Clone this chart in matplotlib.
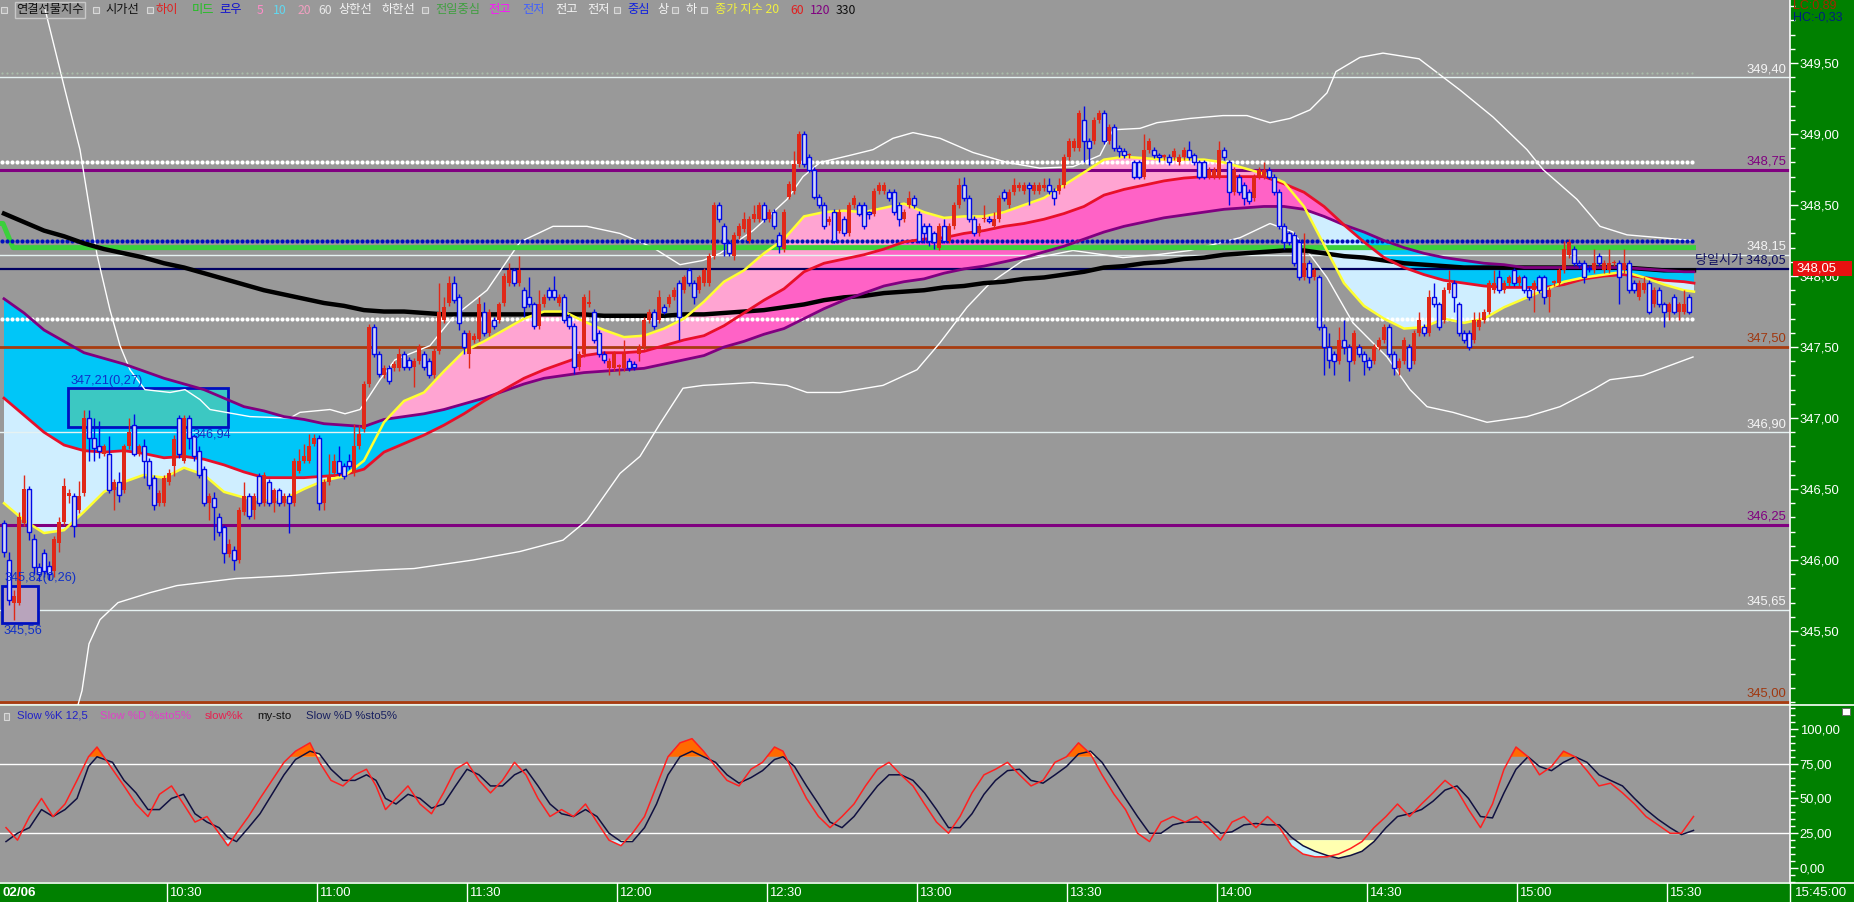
import numpy as np
import matplotlib.pyplot as plt
from matplotlib import font_manager
from matplotlib.patches import Rectangle
from matplotlib.lines import Line2D
from matplotlib.ticker import FuncFormatter, FixedLocator, MultipleLocator
import matplotlib.transforms as mtransforms

# ==================== data (1-minute candles, 09:57 ~ 15:35) ====================
OPEN = [
    346.26, 346.00, 345.70, 345.70, 346.26, 346.50, 346.15, 345.95, 346.05, 345.96,
    345.92, 346.12, 346.27, 346.45, 346.45, 346.35, 346.47, 347.00, 346.86, 346.80,
    346.75, 346.75, 346.49, 346.55, 346.49, 346.80, 346.95, 346.75, 346.80, 346.70,
    346.58, 346.40, 346.40, 346.55, 346.66, 347.00, 346.70, 347.00, 346.87, 346.77,
    346.64, 346.40, 346.44, 346.30, 346.23, 346.04, 346.07, 346.00, 346.34, 346.45,
    346.35, 346.59, 346.40, 346.55, 346.40, 346.49, 346.40, 346.45, 346.40, 346.63,
    346.70, 346.70, 346.82, 346.86, 346.40, 346.55, 346.61, 346.70, 346.66, 346.70,
    346.61, 346.80, 346.92, 347.24, 347.64, 347.45, 347.30, 347.35, 347.35, 347.35,
    347.45, 347.41, 347.36, 347.40, 347.45, 347.40, 347.30, 347.47, 347.69, 347.81,
    347.95, 347.85, 347.60, 347.45, 347.55, 347.56, 347.75, 347.60, 347.69, 347.69,
    347.81, 347.95, 348.04, 347.95, 347.90, 347.85, 347.80, 347.65, 347.80, 347.90,
    347.90, 347.81, 347.85, 347.71, 347.65, 347.36, 347.45, 347.80, 347.75, 347.60,
    347.45, 347.35, 347.35, 347.36, 347.35, 347.40, 347.38, 347.45, 347.50, 347.69,
    347.75, 347.69, 347.78, 347.80, 347.85, 347.95, 347.90, 348.04, 347.95, 347.90,
    347.95, 347.95, 348.14, 348.50, 348.35, 348.23, 348.14, 348.28, 348.33, 348.25,
    348.40, 348.40, 348.50, 348.40, 348.45, 348.29, 348.19, 348.56, 348.60, 348.79,
    349.00, 348.84, 348.75, 348.56, 348.50, 348.38, 348.45, 348.32, 348.40, 348.30,
    348.50, 348.50, 348.50, 348.45, 348.44, 348.60, 348.60, 348.59, 348.59, 348.50,
    348.40, 348.50, 348.55, 348.44, 348.35, 348.35, 348.30, 348.20, 348.35, 348.25,
    348.35, 348.50, 348.64, 348.55, 348.40, 348.30, 348.40, 348.40, 348.35, 348.40,
    348.59, 348.50, 348.59, 348.62, 348.60, 348.64, 348.60, 348.60, 348.62, 348.64,
    348.60, 348.60, 348.64, 348.84, 348.90, 348.90, 349.10, 348.95, 348.95, 349.10,
    349.15, 348.95, 349.05, 348.90, 348.88, 348.85, 348.80, 348.80, 348.70, 348.89,
    348.89, 348.85, 348.84, 348.84, 348.84, 348.80, 348.84, 348.89, 348.85, 348.80,
    348.80, 348.70, 348.70, 348.70, 348.89, 348.80, 348.59, 348.70, 348.64, 348.59,
    348.55, 348.70, 348.70, 348.75, 348.70, 348.59, 348.35, 348.30, 348.29, 348.24,
    347.99, 348.09, 347.99, 347.99, 347.64, 347.50, 347.45, 347.40, 347.55, 347.50,
    347.40, 347.50, 347.45, 347.41, 347.40, 347.50, 347.55, 347.64, 347.45, 347.35,
    347.40, 347.50, 347.40, 347.60, 347.64, 347.60, 347.85, 347.80, 347.69, 347.90,
    347.95, 347.80, 347.60, 347.60, 347.55, 347.64, 347.69, 347.75, 347.90, 347.99,
    347.90, 347.95, 348.04, 347.95, 347.99, 347.90, 347.90, 347.99, 347.99, 347.85,
    347.95, 347.95, 348.04, 348.15, 348.19, 348.09, 348.09, 348.06, 348.04, 348.14,
    348.04, 348.04, 348.09, 348.09, 348.04, 348.09, 347.95, 347.85, 347.90, 347.95,
    347.80, 347.90, 347.80, 347.75, 347.85, 347.75, 347.75, 347.85,
]
CLOSE = [
    346.06, 345.72, 345.75, 346.30, 346.50, 346.20, 345.95, 345.90, 345.92, 345.90,
    346.15, 346.27, 346.52, 346.47, 346.24, 346.45, 347.00, 346.86, 346.79, 346.77,
    346.80, 346.49, 346.55, 346.46, 346.80, 346.90, 346.75, 346.80, 346.70, 346.53,
    346.39, 346.47, 346.58, 346.61, 346.85, 346.75, 347.00, 346.86, 346.73, 346.60,
    346.40, 346.45, 346.37, 346.20, 346.05, 346.11, 346.00, 346.35, 346.45, 346.31,
    346.45, 346.40, 346.60, 346.40, 346.49, 346.40, 346.45, 346.40, 346.70, 346.70,
    346.73, 346.80, 346.86, 346.40, 346.55, 346.60, 346.70, 346.61, 346.59, 346.66,
    346.80, 346.89, 347.24, 347.64, 347.45, 347.31, 347.35, 347.26, 347.38, 347.45,
    347.36, 347.36, 347.40, 347.50, 347.36, 347.30, 347.47, 347.75, 347.78, 347.95,
    347.83, 347.67, 347.50, 347.60, 347.58, 347.80, 347.60, 347.75, 347.65, 347.80,
    348.00, 348.04, 347.95, 348.04, 347.78, 347.80, 347.65, 347.80, 347.85, 347.85,
    347.85, 347.85, 347.69, 347.65, 347.36, 347.45, 347.85, 347.82, 347.55, 347.45,
    347.41, 347.40, 347.45, 347.36, 347.45, 347.35, 347.36, 347.50, 347.69, 347.75,
    347.65, 347.85, 347.75, 347.85, 347.90, 347.71, 347.99, 347.95, 347.85, 347.99,
    348.04, 348.14, 348.50, 348.40, 348.23, 348.16, 348.29, 348.35, 348.40, 348.40,
    348.44, 348.50, 348.40, 348.45, 348.35, 348.21, 348.45, 348.65, 348.79, 349.00,
    348.79, 348.75, 348.56, 348.50, 348.35, 348.40, 348.25, 348.45, 348.30, 348.50,
    348.55, 348.44, 348.35, 348.44, 348.60, 348.64, 348.64, 348.55, 348.45, 348.40,
    348.45, 348.55, 348.50, 348.25, 348.30, 348.25, 348.24, 348.35, 348.25, 348.35,
    348.50, 348.64, 348.55, 348.40, 348.30, 348.35, 348.40, 348.39, 348.40, 348.55,
    348.55, 348.59, 348.64, 348.64, 348.64, 348.62, 348.64, 348.64, 348.64, 348.60,
    348.55, 348.64, 348.84, 348.95, 348.95, 349.15, 348.95, 348.90, 349.10, 349.15,
    348.95, 349.05, 348.90, 348.88, 348.85, 348.85, 348.70, 348.70, 348.89, 348.95,
    348.85, 348.84, 348.84, 348.80, 348.88, 348.84, 348.89, 348.84, 348.80, 348.70,
    348.70, 348.75, 348.75, 348.89, 348.84, 348.59, 348.75, 348.59, 348.55, 348.53,
    348.70, 348.75, 348.75, 348.70, 348.59, 348.35, 348.24, 348.24, 348.09, 347.99,
    348.09, 347.99, 348.04, 347.64, 347.50, 347.41, 347.40, 347.55, 347.50, 347.40,
    347.60, 347.45, 347.40, 347.36, 347.50, 347.55, 347.64, 347.45, 347.35, 347.40,
    347.55, 347.35, 347.60, 347.69, 347.60, 347.85, 347.80, 347.64, 347.90, 347.95,
    347.85, 347.60, 347.55, 347.50, 347.69, 347.69, 347.75, 347.95, 347.95, 347.90,
    347.95, 347.99, 347.95, 347.99, 347.90, 347.85, 347.95, 347.90, 347.85, 347.90,
    347.95, 348.04, 348.19, 348.24, 348.09, 348.08, 347.99, 348.05, 348.09, 348.09,
    348.09, 348.09, 348.09, 347.99, 348.09, 347.90, 347.90, 347.95, 347.95, 347.75,
    347.90, 347.80, 347.75, 347.80, 347.75, 347.80, 347.80, 347.75,
]
HIGH = [
    346.28, 346.06, 345.79, 346.34, 346.60, 346.52, 346.18, 345.98, 346.08, 345.99,
    346.17, 346.30, 346.58, 346.50, 346.47, 346.56, 347.06, 347.06, 347.00, 346.98,
    346.82, 346.87, 346.57, 346.62, 346.82, 347.00, 347.03, 346.82, 346.85, 346.72,
    346.60, 346.49, 346.60, 346.64, 346.88, 347.02, 347.02, 347.02, 346.89, 346.80,
    346.66, 346.47, 346.48, 346.33, 346.25, 346.15, 346.10, 346.37, 346.55, 346.47,
    346.47, 346.61, 346.62, 346.57, 346.51, 346.51, 346.47, 346.47, 346.72, 346.78,
    346.82, 346.89, 346.89, 346.88, 346.57, 346.75, 346.75, 346.80, 346.68, 346.75,
    346.96, 346.95, 347.26, 347.66, 347.66, 347.47, 347.37, 347.37, 347.40, 347.50,
    347.47, 347.43, 347.42, 347.52, 347.47, 347.42, 347.49, 347.95, 347.85, 348.00,
    348.00, 347.87, 347.62, 347.62, 347.60, 347.85, 347.82, 347.77, 347.71, 347.82,
    348.02, 348.09, 348.06, 348.14, 347.92, 347.99, 347.82, 347.90, 347.87, 347.92,
    348.00, 347.87, 347.87, 347.73, 347.67, 347.47, 347.87, 347.90, 347.77, 347.62,
    347.47, 347.42, 347.47, 347.38, 347.55, 347.42, 347.40, 347.52, 347.71, 347.77,
    347.77, 347.90, 347.80, 347.87, 347.92, 347.97, 348.01, 348.06, 347.97, 348.01,
    348.06, 348.16, 348.52, 348.52, 348.37, 348.25, 348.31, 348.37, 348.45, 348.42,
    348.50, 348.52, 348.52, 348.47, 348.47, 348.31, 348.47, 348.67, 348.88, 349.02,
    349.02, 348.86, 348.77, 348.58, 348.52, 348.42, 348.47, 348.47, 348.42, 348.52,
    348.57, 348.52, 348.52, 348.46, 348.62, 348.66, 348.66, 348.61, 348.61, 348.52,
    348.47, 348.60, 348.57, 348.46, 348.37, 348.37, 348.32, 348.37, 348.40, 348.37,
    348.52, 348.69, 348.70, 348.57, 348.42, 348.37, 348.50, 348.42, 348.45, 348.57,
    348.61, 348.61, 348.69, 348.66, 348.66, 348.66, 348.66, 348.66, 348.69, 348.69,
    348.62, 348.69, 348.86, 348.97, 348.97, 349.17, 349.20, 348.97, 349.12, 349.17,
    349.17, 349.07, 349.07, 348.92, 348.90, 348.87, 348.82, 348.82, 349.00, 348.97,
    348.91, 348.87, 348.86, 348.86, 348.90, 348.86, 348.91, 348.95, 348.87, 348.82,
    348.82, 348.77, 348.77, 348.95, 348.91, 348.82, 348.77, 348.72, 348.66, 348.61,
    348.72, 348.77, 348.80, 348.77, 348.72, 348.61, 348.37, 348.32, 348.31, 348.26,
    348.30, 348.11, 348.06, 348.01, 347.66, 347.60, 347.47, 347.64, 347.69, 347.52,
    347.62, 347.52, 347.47, 347.43, 347.52, 347.57, 347.66, 347.66, 347.47, 347.42,
    347.57, 347.52, 347.62, 347.75, 347.66, 347.90, 347.95, 347.82, 347.92, 348.04,
    347.97, 347.82, 347.62, 347.62, 347.75, 347.75, 347.77, 347.97, 348.04, 348.04,
    347.97, 348.01, 348.06, 348.01, 348.01, 347.92, 347.97, 348.01, 348.01, 347.92,
    347.97, 348.06, 348.25, 348.26, 348.21, 348.11, 348.11, 348.08, 348.19, 348.16,
    348.11, 348.19, 348.11, 348.11, 348.19, 348.11, 347.97, 347.97, 347.99, 347.97,
    347.92, 347.92, 347.82, 347.82, 347.87, 347.82, 347.90, 347.87,
]
LOW = [
    346.02, 345.68, 345.58, 345.68, 346.24, 346.14, 345.90, 345.85, 345.88, 345.86,
    345.88, 346.06, 346.25, 346.40, 346.16, 346.33, 346.45, 346.70, 346.70, 346.72,
    346.73, 346.47, 346.35, 346.41, 346.47, 346.78, 346.73, 346.73, 346.58, 346.50,
    346.35, 346.38, 346.38, 346.53, 346.59, 346.72, 346.68, 346.78, 346.70, 346.58,
    346.38, 346.28, 346.14, 346.17, 345.98, 346.02, 345.93, 345.98, 346.32, 346.29,
    346.29, 346.38, 346.38, 346.38, 346.34, 346.38, 346.38, 346.19, 346.38, 346.61,
    346.68, 346.68, 346.80, 346.35, 346.35, 346.53, 346.59, 346.59, 346.57, 346.64,
    346.59, 346.78, 346.90, 347.22, 347.43, 347.29, 347.28, 347.24, 347.33, 347.33,
    347.34, 347.34, 347.22, 347.38, 347.34, 347.28, 347.28, 347.45, 347.67, 347.79,
    347.81, 347.62, 347.45, 347.35, 347.53, 347.54, 347.58, 347.58, 347.63, 347.67,
    347.79, 347.93, 347.93, 347.93, 347.71, 347.78, 347.63, 347.63, 347.78, 347.83,
    347.83, 347.79, 347.67, 347.63, 347.31, 347.34, 347.43, 347.78, 347.53, 347.43,
    347.39, 347.30, 347.33, 347.30, 347.33, 347.33, 347.34, 347.40, 347.48, 347.67,
    347.63, 347.67, 347.73, 347.78, 347.83, 347.55, 347.88, 347.93, 347.80, 347.88,
    347.93, 347.93, 348.12, 348.38, 348.14, 348.14, 348.11, 348.26, 348.31, 348.23,
    348.38, 348.38, 348.38, 348.38, 348.33, 348.16, 348.17, 348.54, 348.58, 348.77,
    348.77, 348.73, 348.54, 348.48, 348.33, 348.36, 348.23, 348.30, 348.28, 348.28,
    348.48, 348.42, 348.33, 348.40, 348.42, 348.58, 348.58, 348.53, 348.43, 348.35,
    348.38, 348.48, 348.48, 348.23, 348.23, 348.21, 348.19, 348.18, 348.23, 348.23,
    348.33, 348.48, 348.53, 348.38, 348.28, 348.28, 348.38, 348.37, 348.33, 348.38,
    348.53, 348.48, 348.57, 348.60, 348.58, 348.50, 348.58, 348.58, 348.60, 348.58,
    348.50, 348.58, 348.62, 348.82, 348.88, 348.88, 348.80, 348.78, 348.93, 349.08,
    348.93, 348.93, 348.88, 348.84, 348.83, 348.83, 348.68, 348.68, 348.68, 348.87,
    348.83, 348.80, 348.82, 348.78, 348.82, 348.78, 348.82, 348.82, 348.78, 348.68,
    348.68, 348.68, 348.68, 348.68, 348.82, 348.50, 348.57, 348.57, 348.50, 348.51,
    348.53, 348.68, 348.68, 348.68, 348.57, 348.33, 348.19, 348.22, 348.07, 347.97,
    347.97, 347.95, 347.97, 347.62, 347.30, 347.35, 347.30, 347.38, 347.45, 347.26,
    347.38, 347.43, 347.30, 347.34, 347.38, 347.48, 347.53, 347.43, 347.30, 347.30,
    347.38, 347.33, 347.38, 347.58, 347.58, 347.58, 347.78, 347.62, 347.67, 347.88,
    347.75, 347.58, 347.53, 347.48, 347.53, 347.62, 347.67, 347.73, 347.88, 347.88,
    347.88, 347.93, 347.93, 347.93, 347.88, 347.83, 347.75, 347.88, 347.80, 347.75,
    347.93, 347.93, 348.02, 348.13, 348.07, 348.06, 347.95, 348.03, 348.02, 348.07,
    348.02, 348.02, 348.07, 347.80, 348.02, 347.88, 347.88, 347.83, 347.88, 347.73,
    347.78, 347.78, 347.64, 347.69, 347.73, 347.69, 347.73, 347.73,
]

# moving averages (candle index, price)
MA_J = [0, 4, 8, 12, 16, 20, 24, 28, 32, 36, 40, 44, 48, 52, 56, 60, 64, 68, 72, 76,
        80, 84, 88, 92, 96, 100, 104, 108, 112, 116, 120, 124, 128, 132, 136, 140, 144, 148, 152, 156,
        160, 164, 168, 172, 176, 180, 184, 188, 192, 196, 200, 204, 208, 212, 216, 220, 224, 228, 232, 236,
        240, 244, 248, 252, 256, 260, 264, 268, 272, 276, 280, 284, 288, 292, 296, 300, 304, 308, 312, 316,
        320, 324, 328, 332, 336, 338]
MA20 = [346.40, 346.28, 346.19, 346.21, 346.34, 346.48, 346.55, 346.60, 346.58, 346.65,
        346.60, 346.48, 346.44, 346.42, 346.43, 346.50, 346.56, 346.59, 346.70, 346.97,
        347.12, 347.18, 347.33, 347.47, 347.54, 347.62, 347.70, 347.75, 347.75, 347.68,
        347.62, 347.57, 347.58, 347.63, 347.70, 347.82, 347.96, 348.04, 348.16, 348.26,
        348.42, 348.45, 348.46, 348.45, 348.48, 348.51, 348.45, 348.41, 348.42, 348.42,
        348.45, 348.50, 348.55, 348.64, 348.73, 348.82, 348.84, 348.83, 348.82, 348.82,
        348.82, 348.80, 348.76, 348.72, 348.66, 348.49, 348.22, 347.95, 347.79, 347.70,
        347.63, 347.64, 347.70, 347.67, 347.70, 347.78, 347.84, 347.90, 347.96, 347.99,
        348.01, 348.03, 347.99, 347.94, 347.90, 347.89]
MA60 = [347.14, 347.02, 346.90, 346.81, 346.77, 346.76, 346.77, 346.75, 346.72, 346.73,
        346.71, 346.67, 346.62, 346.58, 346.58, 346.58, 346.59, 346.60, 346.64, 346.76,
        346.82, 346.88, 346.95, 347.03, 347.12, 347.20, 347.28, 347.34, 347.39, 347.44,
        347.46, 347.46, 347.47, 347.51, 347.55, 347.58, 347.65, 347.74, 347.83, 347.91,
        348.03, 348.09, 348.12, 348.15, 348.19, 348.24, 348.26, 348.27, 348.30, 348.32,
        348.35, 348.37, 348.40, 348.44, 348.49, 348.57, 348.61, 348.64, 348.67, 348.69,
        348.70, 348.70, 348.70, 348.70, 348.65, 348.59, 348.49, 348.36, 348.24, 348.13,
        348.06, 348.01, 347.97, 347.95, 347.93, 347.92, 347.92, 347.92, 347.94, 347.98,
        348.00, 348.01, 347.99, 347.97, 347.96, 347.95]
MA120 = [347.84, 347.74, 347.62, 347.54, 347.46, 347.42, 347.38, 347.33, 347.28, 347.24,
         347.20, 347.14, 347.08, 347.05, 347.01, 346.99, 346.96, 346.95, 346.94, 346.99,
         347.01, 347.03, 347.06, 347.10, 347.14, 347.19, 347.24, 347.28, 347.30, 347.32,
         347.33, 347.34, 347.35, 347.38, 347.41, 347.44, 347.50, 347.54, 347.59, 347.63,
         347.70, 347.77, 347.83, 347.88, 347.93, 347.96, 347.98, 348.02, 348.05, 348.07,
         348.10, 348.13, 348.17, 348.21, 348.26, 348.31, 348.35, 348.38, 348.41, 348.43,
         348.45, 348.47, 348.48, 348.49, 348.49, 348.47, 348.42, 348.36, 348.31, 348.25,
         348.20, 348.16, 348.13, 348.11, 348.09, 348.08, 348.06, 348.06, 348.06, 348.06,
         348.06, 348.06, 348.05, 348.04, 348.03, 348.03]
MA330 = [348.44, 348.38, 348.32, 348.28, 348.23, 348.19, 348.16, 348.13, 348.09, 348.06,
         348.02, 347.98, 347.94, 347.90, 347.87, 347.84, 347.81, 347.79, 347.76, 347.75,
         347.75, 347.74, 347.73, 347.73, 347.73, 347.73, 347.73, 347.73, 347.73, 347.73,
         347.72, 347.72, 347.72, 347.72, 347.73, 347.73, 347.74, 347.75, 347.76, 347.78,
         347.80, 347.83, 347.85, 347.86, 347.88, 347.89, 347.90, 347.92, 347.93, 347.95,
         347.96, 347.98, 347.99, 348.01, 348.03, 348.06, 348.07, 348.09, 348.10, 348.12,
         348.13, 348.15, 348.16, 348.17, 348.18, 348.18, 348.16, 348.14, 348.13, 348.11,
         348.09, 348.08, 348.07, 348.06, 348.06, 348.06, 348.06, 348.06, 348.06, 348.06,
         348.06, 348.06, 348.05, 348.04, 348.04, 348.04]

# envelope (upper / lower band)
BB_UP_J = [8.2, 12.2, 15.2, 18.6, 21.2, 23.2, 25.2, 28.2, 33.2, 36.2,
           39.2, 41.2, 49.2, 57.2, 59.2, 65.2, 68.2, 71.2, 72.6, 75.2,
           78.2, 85.2, 89.8, 96.6, 103.2, 109.8, 116.6, 123.2, 129.8, 135.2,
           139.8, 143.2, 149.8, 156.6, 159.8, 163.2, 169.2, 173.8, 177.8, 181.8,
           187.2, 193.8, 200.6, 207.2, 213.8, 219.2, 221.8, 227.2, 230.6, 237.2,
           243.8, 248.6, 253.2, 257.2, 261.2, 264.6, 266.4, 271.2, 275.8, 283.0,
           291.2, 297.8, 304.6, 307.8, 314.6, 319.2, 324.6, 331.2, 337.8]
BB_UP = [349.88, 349.31, 348.89, 348.15, 347.76, 347.51, 347.34, 347.20, 347.18, 347.20,
         347.13, 347.06, 347.01, 347.00, 347.04, 347.06, 347.03, 347.06, 347.13, 347.27,
         347.41, 347.51, 347.71, 347.90, 348.24, 348.35, 348.35, 348.30, 348.20, 348.08,
         348.11, 348.16, 348.32, 348.54, 348.70, 348.80, 348.85, 348.89, 348.97, 349.01,
         348.97, 348.87, 348.80, 348.76, 348.77, 348.85, 349.03, 349.04, 349.08, 349.11,
         349.13, 349.13, 349.08, 349.11, 349.17, 349.29, 349.44, 349.54, 349.57, 349.53,
         349.31, 349.12, 348.89, 348.75, 348.54, 348.35, 348.29, 348.27, 348.25]
BB_LO_J = [14.8, 15.6, 17.0, 19.2, 22.8, 29.2, 34.6, 46.4, 57.2, 65.4,
           75.2, 82.0, 93.8, 103.2, 111.8, 116.6, 123.2, 127.2, 131.2, 135.8,
           139.8, 149.8, 156.6, 160.6, 167.2, 175.8, 182.6, 187.2, 192.6, 197.2,
           203.8, 213.8, 223.8, 230.6, 237.2, 247.2, 253.2, 257.8, 264.6, 269.8,
           276.6, 281.2, 284.6, 289.8, 296.6, 304.6, 311.2, 317.8, 321.2, 327.8, 337.8]
BB_LO = [344.98, 345.08, 345.41, 345.58, 345.70, 345.77, 345.82, 345.87, 345.89, 345.91,
         345.93, 345.94, 346.00, 346.06, 346.14, 346.28, 346.61, 346.73, 346.96, 347.21,
         347.23, 347.25, 347.23, 347.18, 347.18, 347.23, 347.34, 347.53, 347.78, 347.95,
         348.11, 348.18, 348.13, 348.15, 348.18, 348.27, 348.37, 348.31, 347.99, 347.67,
         347.43, 347.20, 347.08, 347.04, 346.97, 347.01, 347.08, 347.20, 347.27, 347.30, 347.43]

# previous-day centre line (green)
GREEN_J = [-0.8, -0.2, 1.8, 338.4]
GREEN_P = [348.37, 348.37, 348.20, 348.20]

# horizontal reference levels
LEVELS = [349.40, 348.75, 348.15, 348.05, 347.50, 346.90, 346.25, 345.65, 345.00]
LEVEL_TEXT = ['349,40', '348,75', '348,15', '당일시가 348,05', '347,50',
              '346,90', '346,25', '345,65', '345,00']
LEVEL_STYLE = ['light', 'purple', 'light', 'navy', 'brown', 'light', 'purple', 'light', 'brown']
DOT_LEVELS = [349.43, 348.80, 348.25, 347.70]
DOT_STYLE = ['grey', 'white', 'blue', 'white']

# high / low boxes
BOX_UP = dict(j0=12.8, j1=44.8, top=347.21, bot=346.94, t1='347,21(0,27)', t2='346,94')
BOX_DN = dict(j0=-0.4, j1=6.8, top=345.82, bot=345.56, t1='345,82(0,26)', t2='345,56')

PRICE_NOW = 348.05
PRICE_TICKS = [345.5, 346.0, 346.5, 347.0, 347.5, 348.0, 348.5, 349.0, 349.5]

# stochastic (candle index, %K, %D)
STO_J = [0.4, 2.7, 5.1, 7.5, 9.8, 12.2, 14.6, 16.9, 18.6, 21.7, 24.0, 26.4, 28.8, 31.1, 33.5,
         35.9, 38.2, 40.6, 43.0, 44.8, 46.5, 48.9, 51.2, 53.6, 56.0, 58.3, 61.2, 63.1, 65.4,
         67.8, 70.2, 72.5, 74.4, 76.3, 78.4, 80.8, 83.2, 85.5, 87.9, 90.3, 92.6, 95.0, 97.3,
         99.7, 102.1, 104.4, 106.8, 109.2, 111.5, 113.9, 116.3, 118.6, 121.0, 123.4, 125.7,
         128.1, 130.5, 132.8, 135.2, 137.6, 139.9, 142.3, 144.6, 147.0, 149.4, 151.7, 154.1,
         155.8, 158.1, 160.5, 162.9, 165.2, 167.6, 170.0, 172.3, 174.7, 177.0, 179.4, 181.8,
         184.1, 186.5, 188.9, 191.2, 193.6, 196.0, 198.3, 200.7, 203.1, 205.4, 207.8, 210.2,
         212.5, 214.9, 217.3, 219.6, 222.0, 224.3, 226.7, 229.1, 231.4, 233.8, 236.2, 238.5,
         240.9, 243.3, 245.6, 248.0, 250.4, 252.7, 255.1, 257.5, 259.8, 262.2, 264.6, 266.9,
         269.3, 271.6, 274.0, 276.4, 278.7, 281.1, 283.5, 285.8, 288.2, 290.6, 292.9, 295.3,
         297.7, 300.0, 302.4, 304.8, 307.1, 309.5, 311.9, 314.2, 316.6, 319.0, 321.3, 323.7,
         326.1, 328.4, 330.8, 333.2, 335.5, 337.9]
STO_K = [29, 20, 37, 50, 37, 46, 63, 80, 87, 71, 59, 46, 37, 53, 59, 46, 33, 37, 25, 16,
         25, 37, 50, 63, 76, 84, 90, 76, 63, 59, 67, 71, 59, 42, 50, 59, 46, 39, 54, 71,
         76, 63, 54, 63, 76, 67, 50, 37, 42, 37, 46, 33, 20, 16, 25, 37, 59, 80, 90, 93,
         84, 73, 63, 59, 71, 76, 87, 84, 67, 50, 37, 29, 37, 46, 59, 71, 76, 67, 59, 46,
         33, 25, 37, 54, 67, 71, 76, 67, 59, 63, 76, 80, 90, 82, 67, 53, 42, 25, 19, 33,
         37, 33, 37, 29, 20, 33, 37, 29, 37, 29, 16, 10, 8, 8, 10, 14, 19, 29, 37, 46,
         37, 46, 54, 63, 56, 42, 29, 46, 71, 87, 80, 67, 73, 84, 80, 70, 59, 61, 54, 46,
         37, 31, 25, 25, 37]
STO_D = [19, 25, 29, 42, 37, 42, 50, 73, 80, 76, 63, 54, 42, 42, 50, 53, 39, 33, 29, 22,
         19, 29, 39, 53, 67, 78, 84, 82, 71, 63, 63, 67, 63, 50, 46, 53, 50, 43, 46, 59,
         71, 67, 59, 59, 67, 71, 59, 46, 39, 37, 42, 37, 25, 19, 19, 29, 46, 67, 80, 84,
         80, 76, 67, 61, 65, 70, 78, 80, 73, 59, 46, 33, 29, 37, 48, 59, 67, 67, 63, 54,
         42, 29, 29, 39, 53, 63, 70, 71, 63, 61, 67, 73, 82, 84, 76, 63, 50, 37, 25, 25,
         31, 33, 33, 33, 25, 26, 31, 32, 31, 31, 22, 16, 12, 9, 7, 9, 12, 19, 29, 37,
         39, 42, 48, 56, 59, 50, 37, 36, 54, 71, 80, 73, 70, 76, 80, 76, 67, 63, 59, 50,
         42, 35, 29, 24, 27]
STO_TICKS = [0, 25, 50, 75, 100]

TIME_LABELS = ['10:30', '11:00', '11:30', '12:00', '12:30', '13:00',
               '13:30', '14:00', '14:30', '15:00', '15:30']
TIME_MIN = [0, 30, 60, 90, 120, 150, 180, 210, 240, 270, 300]   # minutes after 10:30

TOP_LEGEND = [
    (16, '연결선물지수', '#101010'), (105, '시가선', '#101010'), (156, '하이', '#e02020'),
    (192, '미드', '#20c020'), (219, '로우', '#1010d0'), (257, '5', '#ff8cc8'),
    (273, '10', '#60d8f0'), (298, '20', '#f0a0c0'), (318, '60', '#e8e8e8'),
    (338, '상한선', '#f4f4f4'), (382, '하한선', '#f4f4f4'), (435, '전일중심', '#40a040'),
    (488, '전고', '#ff10ff'), (522, '전저', '#4060ff'), (555, '전고', '#f4f4f4'),
    (587, '전저', '#f4f4f4'), (627, '중심', '#1020e0'), (657, '상', '#f4f4f4'),
    (685, '하', '#f4f4f4'), (715, '종가 지수 20', '#f0f040'), (790, '60', '#e02020'),
    (810, '120', '#800080'), (836, '330', '#101010'),
]
TOP_ICONS = [4, 96, 150, 425, 617, 675, 704]
STO_LEGEND = [
    (17, 'Slow %K 12,5', '#2020c8'), (100, 'Slow %D %sto5%', '#e040c8'),
    (205, 'slow%k', '#e82050'), (257, 'my-sto', '#101010'), (306, 'Slow %D %sto5%', '#182060'),
]

# ==================== layout ====================
W, H = 1854, 902
X0 = 32.6                 # candle index of 10:30
PLOT_R = 1790             # right edge of the plotting area (px)

names = {f.name for f in font_manager.fontManager.ttflist}
NUM_FONT = 'Liberation Sans Narrow' if 'Liberation Sans Narrow' in names else 'Liberation Sans'
NARROW = NUM_FONT == 'Liberation Sans Narrow'
KR = ['Noto Sans CJK KR', 'DejaVu Sans']
plt.rcParams['font.family'] = [NUM_FONT, 'Noto Sans CJK KR', 'DejaVu Sans']

GREEN_BG = '#008000'
GREY_BG = '#999999'
LINE_COL = {'light': ('#e6f2f2', 1.0), 'purple': ('#800080', 2.2),
            'navy': ('#000060', 1.6), 'brown': ('#a83c10', 2.0)}
TEXT_COL = {'light': '#f4f4f4', 'purple': '#800080', 'navy': '#101060', 'brown': '#a03810'}
DOT_COL = {'grey': ('#a8bca8', 1.6), 'white': ('#ffffff', 3.0), 'blue': ('#0010c0', 3.0)}


def jx(px):
    return (px - 4) / 5.0


fig = plt.figure(figsize=(W / 100, H / 100), dpi=100)
fig.patch.set_facecolor(GREEN_BG)

ax = fig.add_axes([0, 1 - 705 / H, PLOT_R / W, 705 / H])
ax2 = fig.add_axes([0, 1 - 882 / H, PLOT_R / W, 176 / H], sharex=ax)
axt = fig.add_axes([0, 0, 1, 19 / H])

comma = FuncFormatter(lambda v, p: f'{v:.2f}'.replace('.', ','))

for a in (ax, ax2):
    a.set_facecolor(GREY_BG)
    for s in a.spines.values():
        s.set_visible(False)
    a.tick_params(axis='x', which='both', bottom=False, labelbottom=False)
    a.yaxis.tick_right()
    a.tick_params(axis='y', which='major', direction='out', length=6, width=1,
                  colors='white', labelsize=9.4, pad=1)
    a.tick_params(axis='y', which='minor', direction='out', length=3.5, width=1, colors='white')
    a.yaxis.set_major_formatter(comma)

ax.set_xlim(-0.8, jx(PLOT_R))
ax.set_ylim(344.979, 349.944)
ax.yaxis.set_major_locator(FixedLocator(PRICE_TICKS))
ax.yaxis.set_minor_locator(MultipleLocator(0.1))

# ---------- moving-average ribbons ----------
mj = np.array(MA_J, float)
m20, m60, m120, m330 = map(np.array, (MA20, MA60, MA120, MA330))
ax.fill_between(mj, m20, m60, where=m20 >= m60, interpolate=True, color='#ffa4d2', lw=0, zorder=1)
ax.fill_between(mj, m20, m60, where=m20 < m60, interpolate=True, color='#cfeeff', lw=0, zorder=1)
ax.fill_between(mj, m60, m120, where=m60 >= m120, interpolate=True, color='#ff62c6', lw=0, zorder=1.1)
ax.fill_between(mj, m60, m120, where=m60 < m120, interpolate=True, color='#00c6f8', lw=0, zorder=1.1)

# ---------- boxes ----------
for b, fc in ((BOX_UP, '#3cc8c2'), (BOX_DN, '#b8a4bc')):
    ax.add_patch(Rectangle((b['j0'], b['bot']), b['j1'] - b['j0'], b['top'] - b['bot'],
                           facecolor=fc, edgecolor='#0010c0', lw=2, zorder=2.2))

# ---------- reference levels ----------
for lv, txt, st in zip(LEVELS, LEVEL_TEXT, LEVEL_STYLE):
    c, lw = LINE_COL[st]
    ax.axhline(lv, color=c, lw=lw, zorder=2)
    ax.annotate(txt, xy=(jx(1786), lv), xytext=(0, 1.5), textcoords='offset points',
                ha='right', va='bottom', fontsize=9.4, color=TEXT_COL[st], zorder=8,
                family=KR if st == 'navy' else None)

# previous-day centre line first, dotted lines over it
ax.plot(GREEN_J, GREEN_P, color='#3cd03c', lw=3.6, zorder=2.8, solid_capstyle='butt')

dot_x = np.arange(-0.5, 338.5, 1.0)
for lv, st in zip(DOT_LEVELS, DOT_STYLE):
    c, ms = DOT_COL[st]
    ax.plot(dot_x, np.full(dot_x.size, lv), ls='none', marker='o', ms=ms, mfc=c, mec=c,
            mew=0, zorder=3)

# ---------- envelope ----------
ax.plot(BB_UP_J, BB_UP, color='white', lw=1, zorder=2.6)
ax.plot(BB_LO_J, BB_LO, color='white', lw=1, zorder=2.6)

# ---------- moving-average lines ----------
ax.plot(mj, m330, color='black', lw=3.2, zorder=4)
ax.plot(mj, m120, color='#800080', lw=2, zorder=4.1)
ax.plot(mj, m60, color='#e8102a', lw=2, zorder=4.2)
ax.plot(mj, m20, color='#ffff30', lw=1.8, zorder=4.3)

# ---------- candles ----------
n = min(len(OPEN), len(CLOSE), len(HIGH), len(LOW))
o, c, h, l = (np.array(v[:n]) for v in (OPEN, CLOSE, HIGH, LOW))
idx = np.arange(n)
up = c >= o
dn = ~up
ax.vlines(idx[up], l[up], h[up], color='#e02818', lw=1, zorder=6)
ax.bar(idx[up], np.maximum(c[up] - o[up], 0.012), bottom=o[up], width=0.72,
       color='#e02818', lw=0, zorder=7)
ax.vlines(idx[dn], l[dn], h[dn], color='#0008e8', lw=1, zorder=6)
ax.bar(idx[dn], o[dn] - c[dn], bottom=c[dn], width=0.62, facecolor='#d4d8f4',
       edgecolor='#0008e8', lw=1, zorder=7)

# box captions
for b, pos in ((BOX_UP, 'up'), (BOX_DN, 'dn')):
    ax.annotate(b['t1'], xy=(b['j0'] + 0.6, b['top']), xytext=(0, 1), textcoords='offset points',
                ha='left', va='bottom', fontsize=9.2, color='#1030c8', zorder=8)
    x2 = b['j1'] - 7.0 if pos == 'up' else b['j0'] + 0.4
    ax.annotate(b['t2'], xy=(x2, b['bot']), xytext=(0, -1.5), textcoords='offset points',
                ha='left', va='top', fontsize=9.2, color='#1030c8', zorder=8)

# current price tag on the axis
btr = mtransforms.blended_transform_factory(ax.transAxes, ax.transData)
ax.add_patch(Rectangle((1 + 3 / PLOT_R, PRICE_NOW - 0.053), 59 / PLOT_R, 0.106, transform=btr,
                       facecolor='#e81010', edgecolor='none', clip_on=False, zorder=20))
ax.text(1 + 6 / PLOT_R, PRICE_NOW, f'{PRICE_NOW:.2f}'.replace('.', ','), transform=btr,
        va='center', ha='left', fontsize=9.4, color='white', zorder=21, clip_on=False)

# ---------- stochastic panel ----------
ax2.set_ylim(-10.1, 116.5)
ax2.yaxis.set_major_locator(FixedLocator(STO_TICKS))
ax2.yaxis.set_minor_locator(MultipleLocator(5))
sj = np.array(STO_J)
sk = np.array(STO_K, float)
sd = np.array(STO_D, float)
ax2.axhline(75, color='white', lw=1, zorder=2)
ax2.axhline(25, color='white', lw=1, zorder=2)
ax2.fill_between(sj, sk, 20, where=sk < 20, interpolate=True, color='#c6f2ff', lw=0, zorder=1)
ax2.fill_between(sj, sd, 20, where=sd < 20, interpolate=True, color='#ffffb0', lw=0, zorder=1.1)
ax2.fill_between(sj, sd, 80, where=sd > 80, interpolate=True, color='#ffffb0', lw=0, zorder=1.1)
ax2.fill_between(sj, sk, 80, where=sk > 80, interpolate=True, color='#ff6a00', lw=0, zorder=1.2)
ax2.plot(sj, sd, color='#101040', lw=1.1, zorder=3)
ax2.plot(sj, sk, color='#ff2020', lw=1.1, zorder=3.1)

# ---------- time bar ----------
axt.set_xlim(-0.8, jx(W))
axt.set_ylim(0, 1)
axt.axis('off')
axt.text(jx(3), 0.45, '02/06', color='white', fontsize=9.6, fontweight='bold', va='center', ha='left')
for m, lab in zip(TIME_MIN, TIME_LABELS):
    axt.axvline(X0 + m, color='white', lw=1)
    axt.text(X0 + m + 0.5, 0.45, lab, color='white', fontsize=9.4, va='center', ha='left')
axt.axvline(jx(PLOT_R), color='white', lw=1)
axt.text(jx(PLOT_R) + 1.0, 0.45, '15:45:00', color='white', fontsize=9.6, va='center', ha='left')

# ---------- frame lines ----------
for yy in (705, 883):
    fig.add_artist(Line2D([0, 1], [1 - yy / H] * 2, transform=fig.transFigure, color='white', lw=1.2))
fig.add_artist(Line2D([PLOT_R / W] * 2, [19 / H, 1], transform=fig.transFigure, color='white', lw=1.2))


# ---------- legends ----------
def ftext(x, y, s, **kw):
    fig.text(x / W, 1 - y / H, s, va='center', ha='left', **kw)


for x in TOP_ICONS:
    fig.add_artist(Rectangle(((x - 3) / W, 1 - 13 / H), 6 / W, 6 / H, transform=fig.transFigure,
                             facecolor='#a8a8a8', edgecolor='#d8d8d8', lw=0.8))
for x, s, col in TOP_LEGEND:
    kw = dict(fontsize=8.8, color=col, family=KR)
    if s == '연결선물지수':
        kw['bbox'] = dict(boxstyle='square,pad=0.12', facecolor='none', edgecolor='#c8c8c8', lw=1)
    ftext(x, 10, s, **kw)

fig.add_artist(Rectangle((4 / W, 1 - 720 / H), 5 / W, 7 / H, transform=fig.transFigure,
                         facecolor='#a8a8a8', edgecolor='#d8d8d8', lw=0.8))
sto_fs = 9.4 if NARROW else 8.2
for x, s, col in STO_LEGEND:
    ftext(x, 716, s, fontsize=sto_fs, color=col)

# top-right change readout
ftext(1793, 6, 'LC:0,89', fontsize=9, color='#a02800')
ftext(1793, 18, 'HC:-0,33', fontsize=9, color='#002080')
fig.add_artist(Rectangle((1842 / W, 1 - 715 / H), 8 / W, 7 / H, transform=fig.transFigure,
                         facecolor='white', edgecolor='#606060', lw=0.6))

fig.savefig('out.png', dpi=100, facecolor=GREEN_BG)
